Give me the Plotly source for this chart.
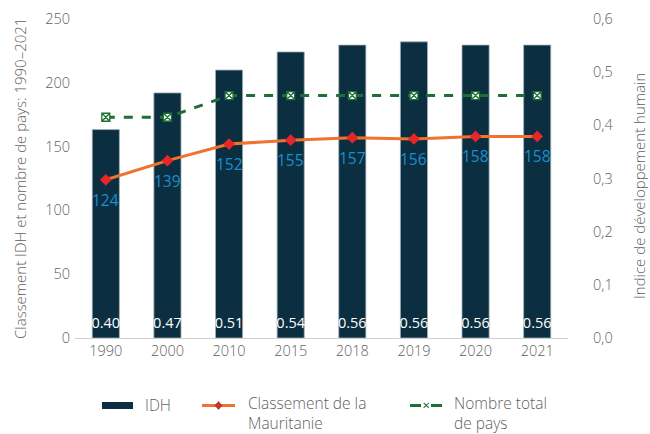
import plotly.graph_objects as go

years = ["1990", "2000", "2010", "2015", "2018", "2019", "2020", "2021"]
idh = [0.392, 0.461, 0.504, 0.538, 0.551, 0.557, 0.551, 0.551]
idh_labels = ["0.40", "0.47", "0.51", "0.54", "0.56", "0.56", "0.56", "0.56"]
rang = [124, 139, 152, 155, 157, 156, 158, 158]
total = [173, 173, 190, 190, 190, 190, 190, 190]

FONT = "Open Sans"
GREY = "#5f5f5f"
NAVY = "#0b2e40"
ORANGE = "#f0732d"
RED = "#e8262a"
GREEN = "#1e6e35"
BLUE = "#1a8fcf"
LW = 300

W, H = 650, 434
L, R, T, B = 75, 82, 19, 96
PW, PH = W - L - R, H - T - B


def px(x):
    return (x - L) / PW


def py(y):
    return (H - B - y) / PH


fig = go.Figure()
fig.add_trace(go.Bar(
    x=years, y=idh, name="IDH", marker=dict(color=NAVY, line=dict(width=0.8, color="#9fb0b9")),
    yaxis="y", showlegend=False))
fig.add_trace(go.Scatter(
    x=years, y=rang, name="Classement de la Mauritanie", mode="lines+markers",
    line=dict(color=ORANGE, width=3),
    marker=dict(symbol="diamond", size=9, color=RED),
    yaxis="y2", showlegend=False))
fig.add_trace(go.Scatter(
    x=years, y=total, name="Nombre total de pays", mode="lines+markers",
    line=dict(color=GREEN, width=3, dash="dash"),
    marker=dict(symbol="square-x", size=8, color="white", line=dict(color=GREEN, width=1.3)),
    yaxis="y2", showlegend=False))
fig.add_trace(go.Scatter(
    x=years, y=[11] * len(years), mode="text", text=idh_labels,
    textfont=dict(color="white", size=14.5, family=FONT), showlegend=False,
    yaxis="y2", hoverinfo="skip"))

shapes = [
    dict(type="rect", xref="paper", yref="paper", x0=px(102), x1=px(133), y0=py(409), y1=py(402),
         fillcolor=NAVY, line=dict(width=0)),
    dict(type="line", xref="paper", yref="paper", x0=px(202), x1=px(235), y0=py(405.5), y1=py(405.5),
         line=dict(color=ORANGE, width=3)),
    dict(type="path", xref="paper", yref="paper",
         path=f"M {px(218.5)},{py(401.5)} L {px(222)},{py(405.5)} L {px(218.5)},{py(409.5)} L {px(215)},{py(405.5)} Z",
         fillcolor=RED, line=dict(color="#3a5a20", width=0.6)),
    dict(type="line", xref="paper", yref="paper", x0=px(410), x1=px(421), y0=py(405.5), y1=py(405.5),
         line=dict(color=GREEN, width=3)),
    dict(type="line", xref="paper", yref="paper", x0=px(431), x1=px(442), y0=py(405.5), y1=py(405.5),
         line=dict(color=GREEN, width=3)),
]

annotations = [
    dict(text=str(v), x=i, y=v, xref="x", yref="y2", yshift=-20, xanchor="center", yanchor="middle",
         showarrow=False, font=dict(size=15.5, color=BLUE, family=FONT))
    for i, v in enumerate(rang)
]
annotations += [
    dict(text="IDH", x=px(143), y=py(405), xref="paper", yref="paper", xanchor="left", yanchor="middle",
         showarrow=False, font=dict(size=15.5, color=GREY, family=FONT, weight=LW)),
    dict(text="Classement de la<br>Mauritanie", x=px(246), y=py(390), xref="paper", yref="paper",
         xanchor="left", yanchor="top", align="left", showarrow=False,
         font=dict(size=15.5, color=GREY, family=FONT, weight=LW)),
    dict(text="Nombre total<br>de pays", x=px(452), y=py(390), xref="paper", yref="paper",
         xanchor="left", yanchor="top", align="left", showarrow=False,
         font=dict(size=15.5, color=GREY, family=FONT, weight=LW)),
    dict(text="✕", x=px(426), y=py(405.5), xref="paper", yref="paper", xanchor="center", yanchor="middle",
         showarrow=False, font=dict(size=10, color=GREEN, family="DejaVu Sans")),
    dict(text="Classement IDH et nombre de pays: 1990–2021", x=px(20), y=py(179), xref="paper", yref="paper",
         xanchor="center", yanchor="middle", textangle=-90, showarrow=False,
         font=dict(size=15, color=GREY, family=FONT, weight=LW)),
    dict(text="Indice de développement humain", x=px(639), y=py(186), xref="paper", yref="paper",
         xanchor="center", yanchor="middle", textangle=-90, showarrow=False,
         font=dict(size=15, color=GREY, family=FONT, weight=LW)),
]

TF = dict(size=14.5, color=GREY, family=FONT, weight=LW)

fig.update_layout(
    width=W, height=H,
    margin=dict(l=L, r=R, t=T, b=B),
    paper_bgcolor="white", plot_bgcolor="white",
    font=dict(family=FONT, color=GREY, size=14),
    separators=", ",
    bargap=0.56,
    showlegend=False,
    shapes=shapes,
    annotations=annotations,
    xaxis=dict(type="category", showline=True, linecolor="#d0d0d0", ticks="", automargin=False,
               tickfont=TF),
    yaxis=dict(side="right", range=[0, 0.6], dtick=0.1, tickformat=".1f", automargin=False,
               showgrid=False, zeroline=False, ticks="", ticklabelstandoff=24,
               tickfont=TF),
    yaxis2=dict(side="left", overlaying="y", range=[0, 250], dtick=50, automargin=False,
                showgrid=False, zeroline=False, ticks="", ticklabelstandoff=4,
                tickfont=TF),
)

fig.write_html("out.html", config={"displayModeBar": False},
               post_script="document.body.style.margin='0';document.body.style.padding='0';")
